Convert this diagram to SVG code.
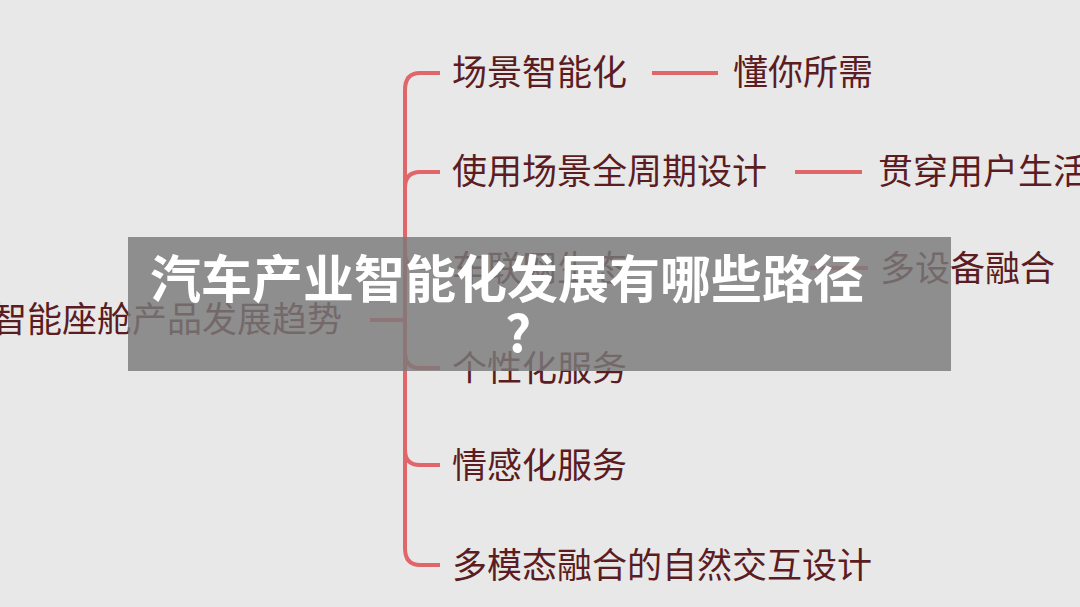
<svg xmlns="http://www.w3.org/2000/svg" width="1080" height="607" viewBox="0 0 1080 607">
<style>
.t{font-family:"Noto Sans CJK SC","Noto Sans CJK JP",sans-serif;font-size:35px;fill:#5b1c22}
.l{stroke:#e0666a;stroke-width:4;fill:none}
.h{font-family:"Noto Sans CJK SC",sans-serif;font-size:51px;font-weight:bold;fill:#fff}
</style>
<rect width="1080" height="607" fill="#e8e8e8"/>
<g id="connectors">
<path class="l" d="M440 73 H420 Q405 73 405 90 V548 Q405 565 420 565 H440"/>
<path class="l" d="M440 172 H420 Q405 172 405 188"/>
<path class="l" d="M405 252 Q405 268 420 268 H440"/>
<path class="l" d="M405 352 Q405 368 420 368 H440"/>
<path class="l" d="M405 450 Q405 465 420 465 H440"/>
<path class="l" d="M370 320 H405"/>
<path class="l" d="M652 73 H718"/>
<path class="l" d="M795 172 H862"/>
<path class="l" d="M810 268 H868"/>
</g>
<g id="root"><text class="t" x="-8" y="332">智能座舱产品发展趋势</text></g>
<g id="n1"><text class="t" x="452" y="85">场景智能化</text></g>
<g id="n1a"><text class="t" x="733" y="85">懂你所需</text></g>
<g id="n2"><text class="t" x="452" y="184">使用场景全周期设计</text></g>
<g id="n2a"><text class="t" x="878" y="184">贯穿用户生活</text></g>
<g id="n3"><text class="t" x="452" y="281">车联网生态</text></g>
<g id="n3a"><text class="t" x="880" y="281">多设备融合</text></g>
<g id="n4"><text class="t" x="452" y="381">个性化服务</text></g>
<g id="n5"><text class="t" x="452" y="478">情感化服务</text></g>
<g id="n6"><text class="t" x="452" y="578">多模态融合的自然交互设计</text></g>
<rect x="128" y="237" width="823" height="134" fill="#7a7a7a" opacity="0.82"/>
<text class="h" x="150" y="298">汽车产业智能化发展有哪些路径</text>
<text class="h" x="518" y="352" text-anchor="middle">?</text>
</svg>
